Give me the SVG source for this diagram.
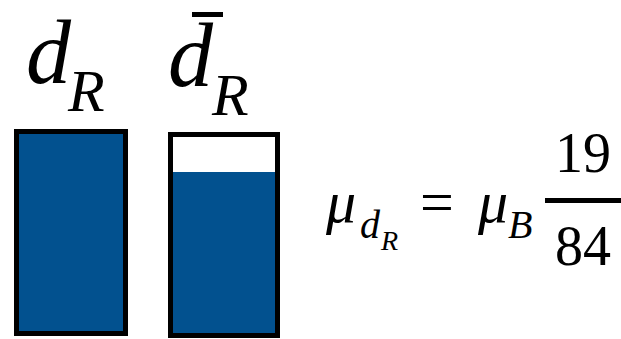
<svg xmlns="http://www.w3.org/2000/svg" width="621" height="339" viewBox="0 0 621 339">
<defs>
<style>.box{stroke:#000;stroke-width:5}</style>
</defs>
<rect width="621" height="339" fill="#fff"/>
<g id="dR">
<text x="26" y="83" font-size="90" font-family="Liberation Serif" font-style="italic">d<tspan x="68" y="111" font-size="60">R</tspan></text>
<rect class="box" x="16.5" y="131.5" width="109" height="202" fill="#02518F"/>
</g>
<g id="dRbar">
<text x="168" y="86" font-size="90" font-family="Liberation Serif" font-style="italic">d<tspan x="212" y="115" font-size="60">R</tspan></text>
<rect x="192" y="12" width="31" height="5" fill="#000"/>
<rect x="170.5" y="172" width="107" height="164" fill="#02518F"/>
<rect class="box" x="170.5" y="134.5" width="107" height="201" fill="none"/>
</g>
<g id="formula">
<text x="326" y="222" font-size="60" font-family="Liberation Serif" font-style="italic">μ<tspan x="360" y="238" font-size="40">d</tspan><tspan x="381" y="250" font-size="28">R</tspan><tspan x="420" y="222" font-size="60" font-style="normal">=</tspan><tspan x="478" y="222" font-size="60">μ</tspan><tspan x="508" y="238" font-size="40">B</tspan></text>
<rect x="545" y="198" width="76" height="5" fill="#000"/>
<text x="555" y="172" font-size="56" font-family="Liberation Serif">19<tspan x="555" y="265">84</tspan></text>
</g>
</svg>
